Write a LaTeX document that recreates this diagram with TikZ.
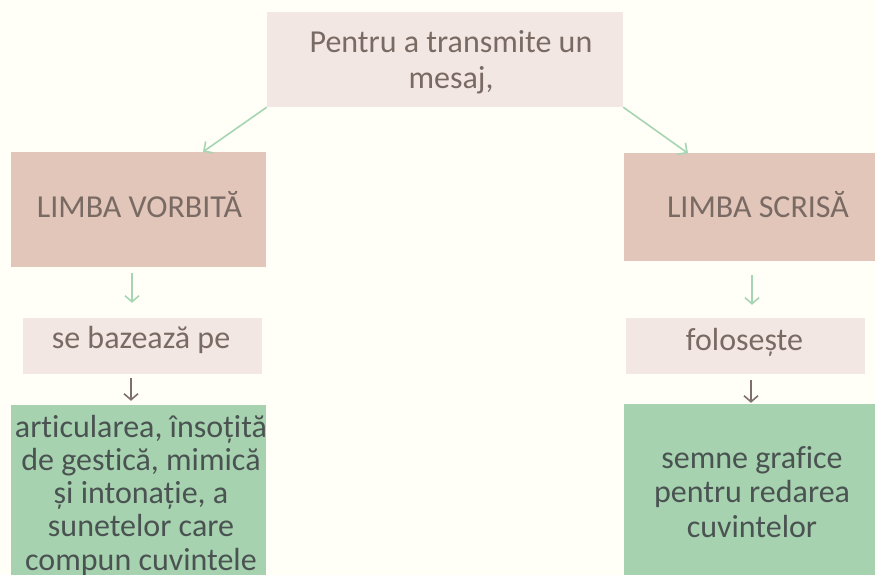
\documentclass[tikz,border=0pt]{standalone}
\usepackage{fontspec}
\setmainfont{Carlito}[Ligatures={NoCommon}]
\usetikzlibrary{arrows.meta}
\definecolor{bg}{HTML}{FFFFF7}
\definecolor{pinklight}{HTML}{F3E7E3}
\definecolor{pinkdark}{HTML}{E1C6B9}
\definecolor{greenbox}{HTML}{A6D2AF}
\definecolor{greenline}{HTML}{A6D5B4}
\definecolor{brownline}{HTML}{7F6F6A}
\definecolor{browntext}{HTML}{7A6A64}
\definecolor{greentext}{HTML}{4A5352}
\tikzset{
  box/.style={rectangle, inner sep=0pt, draw=none},
  lbl/.style={inner sep=0pt, align=center},
  garrow/.style={draw=greenline, line width=1.6pt, -{Straight Barb[length=7pt,width=14pt]}},
  sarrow/.style={line width=1.6pt, -{Straight Barb[length=6pt,width=14pt]}},
}
\begin{document}
\begin{tikzpicture}[x=1pt,y=-1pt]
\useasboundingbox[fill=bg] (0,0) rectangle (875,575);
\clip (0,0) rectangle (875,575);
% boxes
\node[box, fill=pinklight, minimum width=356pt, minimum height=95pt] (top) at (445,59.5) {};
\node[box, fill=pinkdark, minimum width=255pt, minimum height=115pt] (vorb) at (138.5,209.5) {};
\node[box, fill=pinkdark, minimum width=268pt, minimum height=108pt] (scr) at (758,207) {};
\node[box, fill=pinklight, minimum width=239pt, minimum height=56pt] (baz) at (142.5,346) {};
\node[box, fill=pinklight, minimum width=239pt, minimum height=56pt] (fol) at (745.5,346) {};
\node[box, fill=greenbox, minimum width=255pt, minimum height=200pt] (art) at (138.5,505) {};
\node[box, fill=greenbox, minimum width=256pt, minimum height=200pt] (sem) at (752,504) {};
% texts (anchor=base sits on the last line's baseline)
\node[lbl, text=browntext, anchor=base, font=\fontsize{32}{36}\selectfont] (toptxt) at (451,89) {Pentru a transmite un\\mesaj,};
\node[lbl, text=browntext, anchor=base, font=\fontsize{32}{36}\selectfont] (vorbtxt) at (139.5,217) {LIMBA VORBITĂ};
\node[lbl, text=browntext, anchor=base, font=\fontsize{32}{36}\selectfont] (scrtxt) at (758,217) {LIMBA SCRISĂ};
\node[lbl, text=browntext, anchor=base, font=\fontsize{32}{36}\selectfont] (baztxt) at (141,348) {se bazează pe};
\node[lbl, text=browntext, anchor=base, font=\fontsize{32}{36}\selectfont] (foltxt) at (744.5,350) {folosește};
\node[lbl, text=greentext, anchor=base, font=\fontsize{32}{33.2}\selectfont] (arttxt) at (141,570) {articularea, însoțită\\de gestică, mimică\\și intonație, a\\sunetelor care\\compun cuvintele};
\node[lbl, text=greentext, anchor=base, font=\fontsize{32}{34.5}\selectfont] (semtxt) at (752,537) {semne grafice\\pentru redarea\\cuvintelor};
% connectors
\draw[garrow] (top.south west) -- ([xshift=64.5pt]vorb.north);
\draw[garrow] (top.south east) -- ([xshift=-70pt,yshift=-0.5pt]scr.north);
\draw[sarrow, draw=greenline] ([xshift=-6.5pt,yshift=-6pt]vorb.south) -- ([xshift=-10.5pt,yshift=15pt]baz.north);
\draw[sarrow, draw=greenline] ([xshift=-6pt,yshift=-14pt]scr.south) -- ([xshift=6.5pt,yshift=13pt]fol.north);
\draw[sarrow, draw=brownline] ([xshift=-11.5pt,yshift=-4pt]baz.south) -- ([xshift=-7.5pt,yshift=4pt]art.north);
\draw[sarrow, draw=brownline] ([xshift=5.5pt,yshift=-6pt]fol.south) -- ([xshift=-1pt,yshift=1pt]sem.north);
\end{tikzpicture}
\end{document}
